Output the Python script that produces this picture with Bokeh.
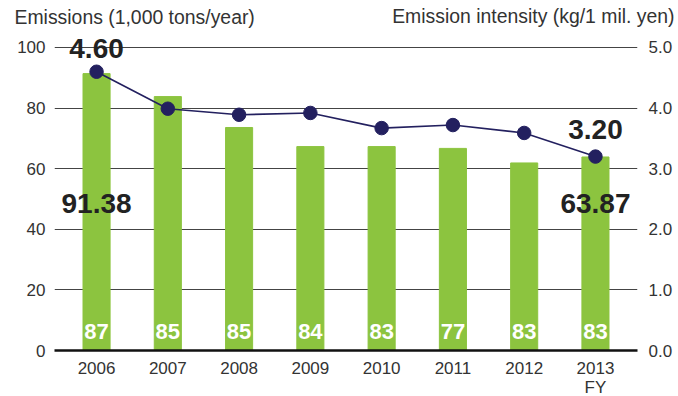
from bokeh.plotting import figure
from bokeh.models import (Range1d, LinearAxis, FixedTicker, NumeralTickFormatter,
                          Label, Title, ColumnDataSource)
from bokeh.core.properties import value
from bokeh.embed import file_html
from bokeh.resources import INLINE

# Fiscal years and values
years = ["2006", "2007", "2008", "2009", "2010", "2011", "2012", "2013"]
emissions = [91.38, 83.8, 73.6, 67.3, 67.3, 66.7, 61.9, 63.87]      # 1,000 tons/year
intensity = [4.60, 3.99, 3.89, 3.92, 3.67, 3.72, 3.59, 3.20]         # kg / 1 mil. yen
bar_labels = ["87", "85", "85", "84", "83", "77", "83", "83"]
left_ticks = [0, 20, 40, 60, 80, 100]
right_ticks = [0, 1, 2, 3, 4, 5]
left_title = "Emissions (1,000 tons/year)"
right_title = "Emission intensity (kg/1 mil. yen)"
fy_note = "FY"

FONT = "Liberation Sans"
GREEN = "#8cc43f"
NAVY = "#23205f"
TEXT = "#333333"
W, H = 678, 396
BL, BR, BT, BB = 54, 41, 17, 46          # borders around the plotting frame
PAD = 0.59                               # x padding (category units)
Y_TOP = 109.9                            # frame top, in emission units
RATIO = 20.0                             # emission units per intensity unit

xs = list(range(len(years)))
src = ColumnDataSource(dict(x=xs, emissions=emissions, intensity=intensity, lbl=bar_labels))

p = figure(width=W, height=H, output_backend="svg", toolbar_location=None,
           x_range=Range1d(-PAD, len(years) - 1 + PAD), y_range=Range1d(0, Y_TOP),
           min_border_left=BL, min_border_right=BR, min_border_top=BT, min_border_bottom=BB)
p.extra_y_ranges = {"int": Range1d(0, Y_TOP / RATIO)}
p.outline_line_color = None
p.background_fill_color = "white"
p.border_fill_color = "white"

# Bars
p.vbar(x="x", top="emissions", width=0.38, color=GREEN, source=src)

# Value labels inside bars
p.text(x="x", y=6.3, text="lbl", source=src, text_color="white",
       text_font=value(FONT), text_font_size="22px", text_font_style="bold",
       text_align="center", text_baseline="middle")

# Intensity line
p.line(x="x", y="intensity", source=src, y_range_name="int", line_color=NAVY, line_width=1.6)
p.scatter(x="x", y="intensity", source=src, y_range_name="int", size=13.5,
          fill_color=NAVY, line_color=NAVY)

# Grid
p.xgrid.grid_line_color = None
p.ygrid.grid_line_color = "#444444"
p.ygrid.grid_line_width = 1
p.ygrid.ticker = FixedTicker(ticks=left_ticks)


def style_axis(ax, standoff):
    ax.axis_line_color = None
    ax.major_tick_line_color = None
    ax.minor_tick_line_color = None
    ax.major_tick_out = 0
    ax.major_tick_in = 0
    ax.minor_tick_out = 0
    ax.major_label_standoff = standoff
    ax.major_label_text_font = FONT
    ax.major_label_text_font_size = "17px"
    ax.major_label_text_color = TEXT


# Left axis
la = p.yaxis[0]
la.ticker = FixedTicker(ticks=left_ticks)
style_axis(la, 9)

# Right axis
ra = LinearAxis(y_range_name="int", ticker=FixedTicker(ticks=right_ticks),
                formatter=NumeralTickFormatter(format="0.0"))
style_axis(ra, 11)
p.add_layout(ra, "right")

# Bottom axis
xa = p.xaxis[0]
xa.ticker = FixedTicker(ticks=xs)
xa.major_label_overrides = {i: y for i, y in enumerate(years)}
style_axis(xa, 11)
xa.axis_line_color = "#111111"
xa.axis_line_width = 2.5

# Axis titles on one line above the frame (zero-height title panels)
frame_w = W - BL - BR
title_style = dict(text_font=FONT, text_font_size="19.4px", text_font_style="normal",
                   text_color=TEXT)
p.add_layout(Title(text=left_title, align="left", vertical_align="middle",
                   offset=14 - BL, standoff=-23, **title_style), "above")
p.add_layout(Title(text=right_title, align="right", vertical_align="middle",
                   offset=-(BR - 4), standoff=-23, **title_style), "above")

# "FY" note under the last year
last_px = (len(years) - 1 + PAD) / (len(years) - 1 + 2 * PAD) * frame_w
fy_w = 1.278 * 17
p.add_layout(Title(text=fy_note, align="left", vertical_align="bottom",
                   offset=last_px - fy_w / 2, standoff=-1, text_font=FONT,
                   text_font_size="17px", text_font_style="normal", text_color=TEXT), "below")

# Highlighted first/last values
big = dict(text_font=FONT, text_font_size="28px", text_font_style="bold",
           text_color="#222222", text_align="center", text_baseline="middle")
p.add_layout(Label(x=0, y=4.99, y_range_name="int", text=f"{intensity[0]:.2f}", **big))
p.add_layout(Label(x=len(years) - 1, y=3.64, y_range_name="int",
                   text=f"{intensity[-1]:.2f}", **big))
p.add_layout(Label(x=0, y=48.5, text=f"{emissions[0]:.2f}", **big))
p.add_layout(Label(x=len(years) - 1, y=48.5, text=f"{emissions[-1]:.2f}", **big))

open("out.html", "w").write(file_html(p, INLINE))
